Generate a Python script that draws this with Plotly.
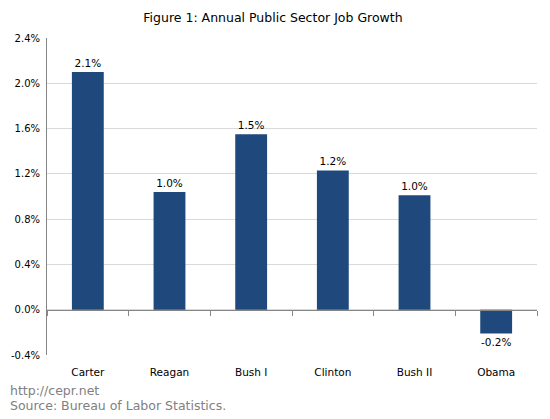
import plotly.graph_objects as go

presidents = ["Carter", "Reagan", "Bush I", "Clinton", "Bush II", "Obama"]
growth = [2.10, 1.04, 1.55, 1.23, 1.01, -0.21]
labels = ["2.1%", "1.0%", "1.5%", "1.2%", "1.0%", "-0.2%"]
y_ticks = [-0.4, 0.0, 0.4, 0.8, 1.2, 1.6, 2.0, 2.4]
y_ticktext = ["-0.4%", "0.0%", "0.4%", "0.8%", "1.2%", "1.6%", "2.0%", "2.4%"]
footer_lines = ["http://cepr.net", "Source: Bureau of Labor Statistics."]

FONT = "Verdana, DejaVu Sans, sans-serif"
ymin, ymax = -0.4, 2.4

# page body adds an 8px offset; figure is sized to compensate
W, H = 542, 411
L, R, T, B = 39, 13, 30, 64
PW, PH = W - L - R, H - T - B

fig = go.Figure()
fig.add_trace(go.Bar(
    x=presidents, y=growth, text=labels, textposition="outside",
    textfont=dict(family=FONT, size=10.5, color="#000000"),
    marker=dict(color="#1F497D", line=dict(width=0)),
    width=0.39, cliponaxis=False, xaxis="x2", yaxis="y",
    hoverinfo="skip",
))
# invisible trace to carry bottom category labels
fig.add_trace(go.Scatter(
    x=presidents, y=[0] * len(presidents), mode="markers",
    marker=dict(opacity=0), xaxis="x", yaxis="y", hoverinfo="skip",
    showlegend=False,
))

fig.update_layout(
    width=W, height=H,
    margin=dict(l=L, r=R, t=T, b=B, autoexpand=False),
    paper_bgcolor="white", plot_bgcolor="white",
    showlegend=False,
    font=dict(family=FONT, size=10, color="#000000"),
    title=dict(text="Figure 1: Annual Public Sector Job Growth",
               x=(273 - 8) / W, xref="container", xanchor="center",
               y=1 - 10 / H, yanchor="middle",
               font=dict(family=FONT, size=12.5, color="#000000")),
    xaxis=dict(type="category", categoryorder="array", categoryarray=presidents,
               range=[-0.5, 5.5], showline=False, showgrid=False,
               ticks="outside", ticklen=7, tickcolor="rgba(0,0,0,0)",
               tickfont=dict(family=FONT, size=10.5, color="#000000"),
               anchor="y", side="bottom", fixedrange=True),
    xaxis2=dict(type="category", categoryorder="array", categoryarray=presidents,
                range=[-0.5, 5.5], overlaying="x", anchor="free",
                position=(0 - ymin) / (ymax - ymin),
                showline=True, linecolor="#868686", linewidth=1,
                ticks="outside", tickson="boundaries", ticklen=5,
                tickcolor="#868686", showticklabels=False, showgrid=False),
    yaxis=dict(range=[ymin, ymax], tickvals=y_ticks, ticktext=y_ticktext,
               showgrid=True, gridcolor="#D9D9D9", gridwidth=1,
               zeroline=False, showline=True, linecolor="#868686",
               linewidth=1, ticks="outside", ticklen=4,
               tickcolor="rgba(0,0,0,0)",
               tickfont=dict(family=FONT, size=10, color="#000000")),
    annotations=[
        dict(text=footer_lines[0], xref="paper", yref="paper",
             x=-(L - 0) / PW, y=-(390 - 8 - (T + PH)) / PH,
             xanchor="left", yanchor="middle", align="left", showarrow=False,
             font=dict(family=FONT, size=12.5, color="#808080")),
        dict(text=footer_lines[1], xref="paper", yref="paper",
             x=-(L - 0) / PW, y=-(406 - 8 - (T + PH)) / PH,
             xanchor="left", yanchor="middle", align="left", showarrow=False,
             font=dict(family=FONT, size=12.5, color="#808080")),
    ],
)

fig.write_html("out.html")
